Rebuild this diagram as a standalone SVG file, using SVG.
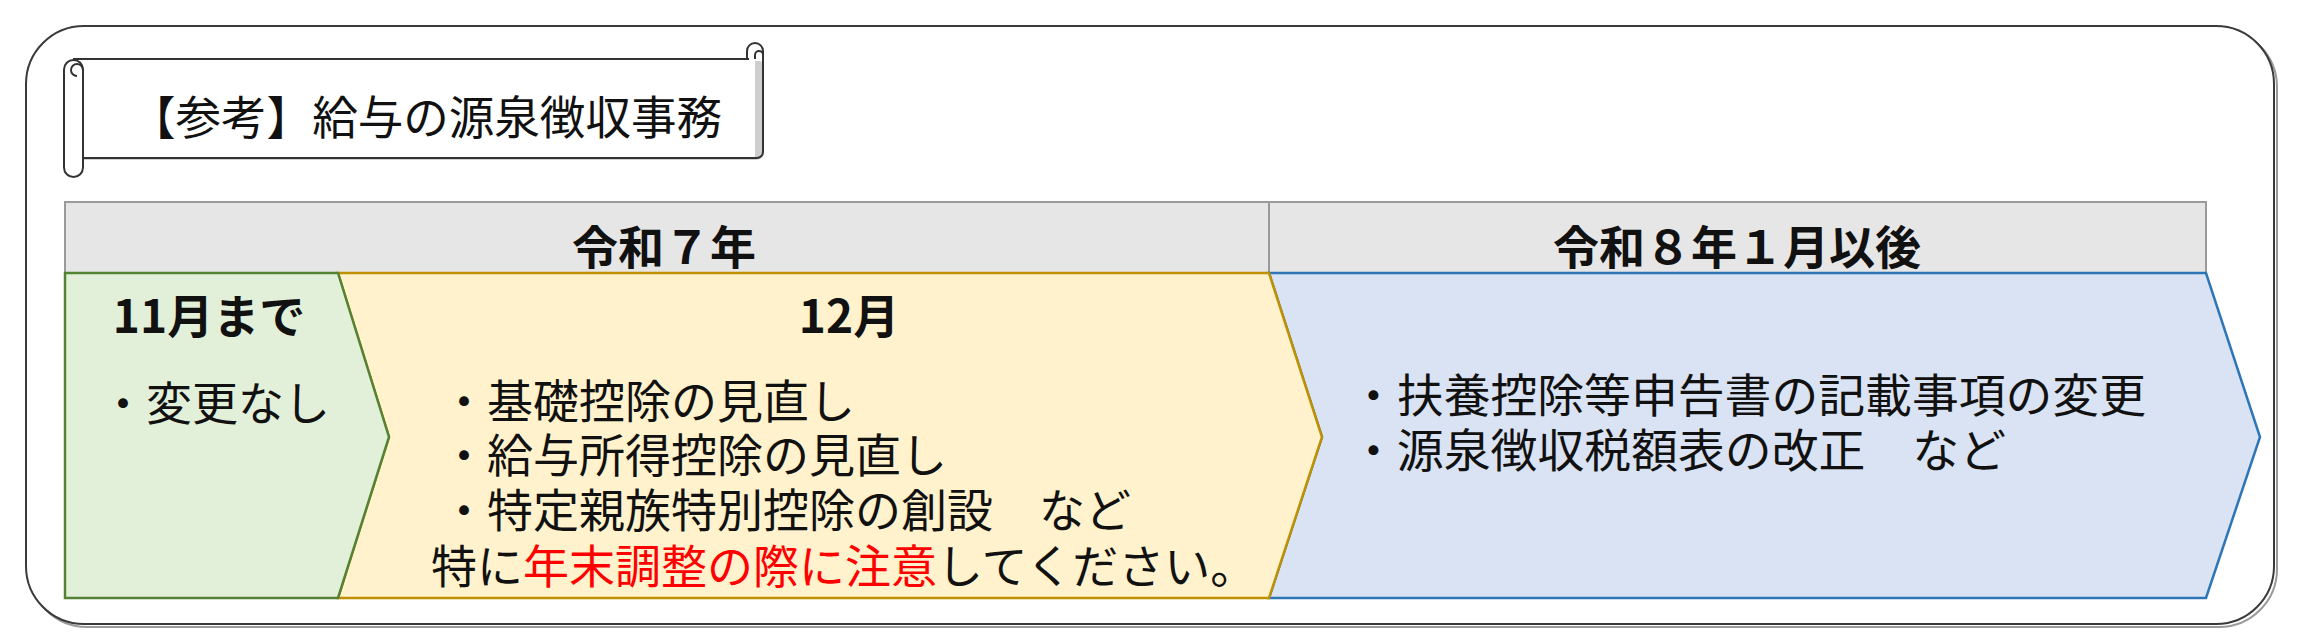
<svg xmlns="http://www.w3.org/2000/svg" width="2303" height="642" viewBox="0 0 2303 642">
<style>
text{font-family:"Noto Sans CJK JP","Noto Sans CJK SC",sans-serif;fill:#111;font-size:46px}
.b{font-weight:700}
.red{fill:#ff0000}
.line{fill:none;stroke:#333;stroke-width:2}
</style>
<rect width="2303" height="642" fill="#ffffff"/>
<g id="frame">
<rect x="29" y="29" width="2248" height="598" rx="58" fill="none" stroke="#9a9a9a" stroke-width="2"/>
<rect x="26" y="26" width="2248" height="598" rx="58" fill="#ffffff" stroke="#3a3a3a" stroke-width="2"/>
</g>
<g id="banner">
<path d="M75 61 H759 Q763 61 763 65 V152 Q763 160 755 160 H80 Z" fill="#cfcfcf"/>
<path d="M73 59 H755 V158 H80 Z" fill="#ffffff"/>
<path class="line" d="M73 59 H749"/>
<path class="line" d="M747 59 V51 A8 8 0 0 1 763 51 V152 A6 6 0 0 1 757 158 H83"/>
<path class="line" d="M755 59 V55 A4 4 0 0 1 763 55"/>
<rect x="64" y="60" width="19" height="117" rx="9.5" fill="#ffffff" stroke="#333" stroke-width="2"/>
<path class="line" d="M77 76 A6 6 0 1 1 83 70"/>
<text x="130" y="134" font-size="52" textLength="592" lengthAdjust="spacingAndGlyphs">【参考】給与の源泉徴収事務</text>
</g>
<g id="header-2025">
<rect x="65" y="202" width="1204" height="71" fill="#e7e6e6" stroke="#9a9a9a" stroke-width="2"/>
<text class="b" x="664" y="264" text-anchor="middle">令和７年</text>
</g>
<g id="header-2026">
<rect x="1269" y="202" width="937" height="71" fill="#e7e6e6" stroke="#9a9a9a" stroke-width="2"/>
<text class="b" x="1737" y="264" text-anchor="middle">令和８年１月以後</text>
</g>
<g id="connectors"></g>
<g id="box-2026">
<path d="M1269 273 H2206 L2260 437 L2206 598 H1269 L1322 437 Z" fill="#dae3f3" stroke="#2e75b6" stroke-width="2.5"/>
<text x="1350" y="412" textLength="796" lengthAdjust="spacingAndGlyphs">・扶養控除等申告書の記載事項の変更</text>
<text x="1350" y="467" textLength="656" lengthAdjust="spacingAndGlyphs">・源泉徴収税額表の改正　など</text>
</g>
<g id="box-dec">
<path d="M338 273 H1269 L1322 437 L1269 598 H338 L389 437 Z" fill="#fff2cc" stroke="#bf9000" stroke-width="2.5"/>
<text class="b" x="849" y="333" text-anchor="middle">12月</text>
<text x="441" y="418">・基礎控除の見直し</text>
<text x="441" y="472">・給与所得控除の見直し</text>
<text x="441" y="527">・特定親族特別控除の創設　など</text>
<text x="431" y="583">特に<tspan class="red">年末調整の際に注意</tspan>してください。</text>
</g>
<g id="box-nov">
<path d="M65 273 H338 L389 437 L338 598 H65 Z" fill="#e2f0d9" stroke="#548235" stroke-width="2.5"/>
<text class="b" x="209" y="333" text-anchor="middle">11月まで</text>
<text x="100" y="420">・変更なし</text>
</g>
</svg>
